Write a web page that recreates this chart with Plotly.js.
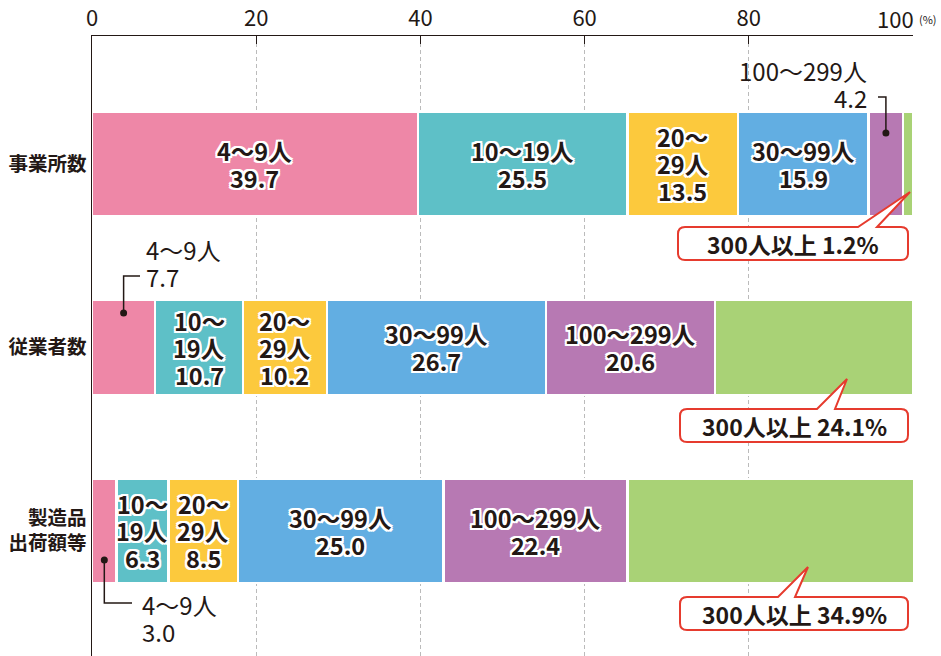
<!DOCTYPE html>
<html><head><meta charset="utf-8">
<script src="https://cdn.plot.ly/plotly-3.0.1.min.js"></script>
<style>html,body{margin:0;padding:0;background:#fff}#chart{width:941px;height:656px}</style>
</head><body><div id="chart"></div>
<script>
// ---- data ----
const categories = ['事業所数', '従業者数', '製造品<br>出荷額等'];
const seriesNames = ['4～9人', '10～19人', '20～29人', '30～99人', '100～299人', '300人以上'];
const establishments = [39.7, 25.5, 13.5, 15.9, 4.2, 1.2];
const employees = [7.7, 10.7, 10.2, 26.7, 20.6, 24.1];
const shipments = [3.0, 6.3, 8.5, 25.0, 22.4, 34.9];
const xTicks = [0, 20, 40, 60, 80, 100];

// ---- style ----
const colors = ['#EE87A7', '#5EC0C7', '#FCC93D', '#62AEE2', '#B779B3', '#A9D276'];
const ink = '#231815';
const red = '#E63B2E';
const FONT = '"Noto Sans CJK JP", "Noto Sans", sans-serif';
const rows = [establishments, employees, shipments];
// label mode per cell: in = 2 lines inside, in3 = 3 lines inside, lead = leader label, box = callout
const labelModes = [
  ['in', 'in', 'in3', 'in', 'lead', 'box'],
  ['lead', 'in3', 'in3', 'in', 'in', 'box'],
  ['lead', 'in3', 'in3', 'in', 'in', 'box']
];
const barWidths = [0.567, 0.52, 0.567];

// pixel -> data helpers (plot area: x 92..913, y 36..656)
const PXU = 8.21, Y0 = 164, YU = 183.5;
const xd = px => (px - 92) / PXU;
const yd = py => (py - Y0) / YU;
const LINE = 27; // px between text lines

const traces = seriesNames.map((name, i) => ({
  type: 'bar', orientation: 'h', name: name,
  x: rows.map(r => r[i]), y: [0, 1, 2], width: barWidths,
  marker: {color: colors[i], line: {color: '#fff', width: 2.5}},
  hoverinfo: 'skip', showlegend: false
}));

const halo = '1px 1px 0 #fff, -1px -1px 0 #fff, 1px -1px 0 #fff, -1px 1px 0 #fff, 0 2px 0 #fff, 0 -2px 0 #fff, 2px 0 0 #fff, -2px 0 0 #fff, 2px 2px 0 #fff, -2px -2px 0 #fff, 2px -2px 0 #fff, -2px 2px 0 #fff';
const annotations = [];
const shapes = [];

function lines(x, yCenterData, arr, font, xanchor) {
  const n = arr.length;
  arr.forEach((t, k) => {
    annotations.push({x: x, y: yCenterData + (k - (n - 1) / 2) * LINE / YU, xref: 'x', yref: 'y',
      xanchor: xanchor || 'center', yanchor: 'middle', text: t, showarrow: false, font: font});
  });
}

const inFont = {family: FONT, size: 23.5, color: ink, weight: 700, shadow: halo};
rows.forEach((vals, r) => {
  let cum = 0;
  vals.forEach((v, i) => {
    const mid = cum + v / 2;
    cum += v;
    const mode = labelModes[r][i];
    const val = v.toFixed(1);
    if (mode === 'in') {
      lines(mid, r, [seriesNames[i], val], inFont);
    } else if (mode === 'in3') {
      const nm = seriesNames[i], k = nm.indexOf('～');
      lines(mid, r, [nm.slice(0, k + 1), nm.slice(k + 1), val], inFont);
    }
  });
});

// leader labels
const outFont = {family: FONT, size: 24, color: ink};
function leader(r, i, dotPy, path, labelPx, labelPy, anchor) {
  const vals = rows[r];
  let cum = 0; for (let k = 0; k < i; k++) cum += vals[k];
  const mid = cum + vals[i] / 2;
  shapes.push({type: 'circle', xref: 'x', yref: 'y', xsizemode: 'pixel', ysizemode: 'pixel',
    xanchor: mid, yanchor: yd(dotPy), x0: -3.5, x1: 3.5, y0: -3.5, y1: 3.5, fillcolor: ink, line: {width: 0}, layer: 'above'});
  const mx = 92 + mid * PXU;
  const pts = [[mx, dotPy]].concat(path.map(p => [p[0] === null ? mx : p[0], p[1]]));
  shapes.push({type: 'path', xref: 'x', yref: 'y', layer: 'above',
    path: pts.map((p, k) => (k ? 'L' : 'M') + xd(p[0]) + ',' + yd(p[1])).join(' '),
    line: {color: ink, width: 1.5}});
  lines(xd(labelPx), yd(labelPy), [seriesNames[i], vals[i].toFixed(1)], outFont, anchor);
}
leader(0, 4, 133, [[null, 97], [878, 97]], 869, 84, 'right');
leader(1, 0, 313, [[null, 276], [140, 276]], 144, 263, 'left');
leader(2, 0, 560, [[null, 603], [132, 603]], 140, 618, 'left');

// callout boxes
function callout(r, L, R, T, B, bL, bR, tx, ty) {
  const rad = 7;
  const P = (x, y) => xd(x) + ',' + yd(y);
  const path = 'M' + P(L + rad, T) + ' L' + P(bL, T) + ' L' + P(tx, ty) + ' L' + P(bR, T) +
    ' L' + P(R - rad, T) + ' Q' + P(R, T) + ' ' + P(R, T + rad) +
    ' L' + P(R, B - rad) + ' Q' + P(R, B) + ' ' + P(R - rad, B) +
    ' L' + P(L + rad, B) + ' Q' + P(L, B) + ' ' + P(L, B - rad) +
    ' L' + P(L, T + rad) + ' Q' + P(L, T) + ' ' + P(L + rad, T) + ' Z';
  shapes.push({type: 'path', xref: 'x', yref: 'y', layer: 'above', path: path,
    fillcolor: '#fff', line: {color: red, width: 2}});
  annotations.push({x: xd((L + R) / 2), y: yd((T + B) / 2), xref: 'x', yref: 'y', showarrow: false,
    yanchor: 'middle', text: seriesNames[5] + ' ' + rows[r][5].toFixed(1) + '%',
    font: {family: FONT, size: 23, color: ink, weight: 700}});
}
callout(0, 678, 908, 227, 260, 858, 877, 910, 192);
callout(1, 680, 908, 409, 442, 817, 835, 847, 379);
callout(2, 680, 908, 597, 630, 778, 795, 808, 567);

// last tick label drawn with its unit, shifted left as in the reference
const lastTick = xTicks[xTicks.length - 1];
annotations.push({x: lastTick, y: 1, xref: 'x', yref: 'paper', xanchor: 'right', yanchor: 'middle',
  xshift: 3, yshift: 18, text: String(lastTick), showarrow: false,
  font: {family: FONT, size: 22, color: ink}});
annotations.push({x: lastTick, y: 1, xref: 'x', yref: 'paper', xanchor: 'left', yanchor: 'middle',
  xshift: 4, yshift: 17, text: '(%)', showarrow: false, font: {family: FONT, size: 11, color: ink}});

const layout = {
  width: 941, height: 656,
  margin: {l: 92, r: 28, t: 36, b: 0, pad: 0},
  paper_bgcolor: '#fff', plot_bgcolor: '#fff',
  barmode: 'stack', bargap: 0,
  font: {family: FONT, color: ink},
  xaxis: {range: [0, 100], side: 'top', tickvals: xTicks,
    ticktext: xTicks.map(t => t === lastTick ? ' ' : String(t)),
    showline: true, linecolor: ink, linewidth: 1.5, ticks: 'inside', ticklen: 8, tickcolor: ink, tickwidth: 1,
    showgrid: true, gridcolor: '#BBBBBB', gridwidth: 1, griddash: '4px,3px', zeroline: false,
    tickfont: {family: FONT, size: 22, color: ink}, fixedrange: true},
  yaxis: {range: [(656 - Y0) / YU, (36 - Y0) / YU], tickvals: [0, 1, 2], ticktext: categories,
    showline: true, linecolor: ink, linewidth: 1.5, ticks: '', showgrid: false, zeroline: false,
    tickfont: {family: FONT, size: 19.5, color: ink, weight: 700}, fixedrange: true},
  shapes: shapes, annotations: annotations
};

Plotly.newPlot('chart', traces, layout, {displayModeBar: false, staticPlot: true});
</script></body></html>
